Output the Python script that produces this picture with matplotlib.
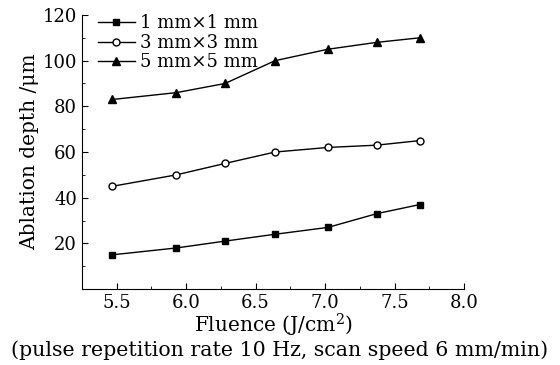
import matplotlib
matplotlib.use("Agg")
import matplotlib.pyplot as plt
from matplotlib.ticker import MultipleLocator

# data
fluence = [5.47, 5.93, 6.28, 6.64, 7.02, 7.37, 7.68]
depth_1mm = [15, 18, 21, 24, 27, 33, 37]
depth_3mm = [45, 50, 55, 60, 62, 63, 65]
depth_5mm = [83, 86, 90, 100, 105, 108, 110]
labels = ["1 mm\u00d71 mm", "3 mm\u00d73 mm", "5 mm\u00d75 mm"]

plt.rcParams['font.family'] = ['DejaVu Serif']
plt.rcParams['mathtext.fontset'] = 'dejavuserif'

fig = plt.figure(figsize=(5.6, 3.65), dpi=100)
ax = fig.add_axes([0.146, 0.208, 0.683, 0.751])

ax.plot(fluence, depth_1mm, '-s', color='black', lw=1, ms=4.5, label=labels[0])
ax.plot(fluence, depth_3mm, '-o', color='black', lw=1, ms=5, mfc='white', label=labels[1])
ax.plot(fluence, depth_5mm, '-^', color='black', lw=1, ms=6, label=labels[2])

ax.set_xlim(5.25, 8.0)
ax.set_ylim(0, 120)
ax.xaxis.set_minor_locator(MultipleLocator(0.25))
ax.yaxis.set_minor_locator(MultipleLocator(10))
ax.set_xticks([5.5, 6.0, 6.5, 7.0, 7.5, 8.0])
ax.set_yticks([20, 40, 60, 80, 100, 120])
ax.tick_params(which='major', direction='in', length=4, labelsize=13)
ax.tick_params(which='minor', direction='in', length=2.5)
ax.spines['top'].set_visible(False)
ax.spines['right'].set_visible(False)

ax.set_ylabel("Ablation depth /\u03bcm", fontsize=14.5, labelpad=2)
ax.set_xlabel("Fluence (J/cm$^2$)", fontsize=14.5, labelpad=0)
fig.text(0.5, 0.04, "(pulse repetition rate 10 Hz, scan speed 6 mm/min)",
         ha='center', va='center', fontsize=14.8)

ax.legend(loc='upper left', frameon=False, fontsize=13, handlelength=2.0,
          handletextpad=0.3, labelspacing=0.08, borderaxespad=0.1,
          bbox_to_anchor=(0.02, 1.035))

fig.savefig("out.png", dpi=100)
